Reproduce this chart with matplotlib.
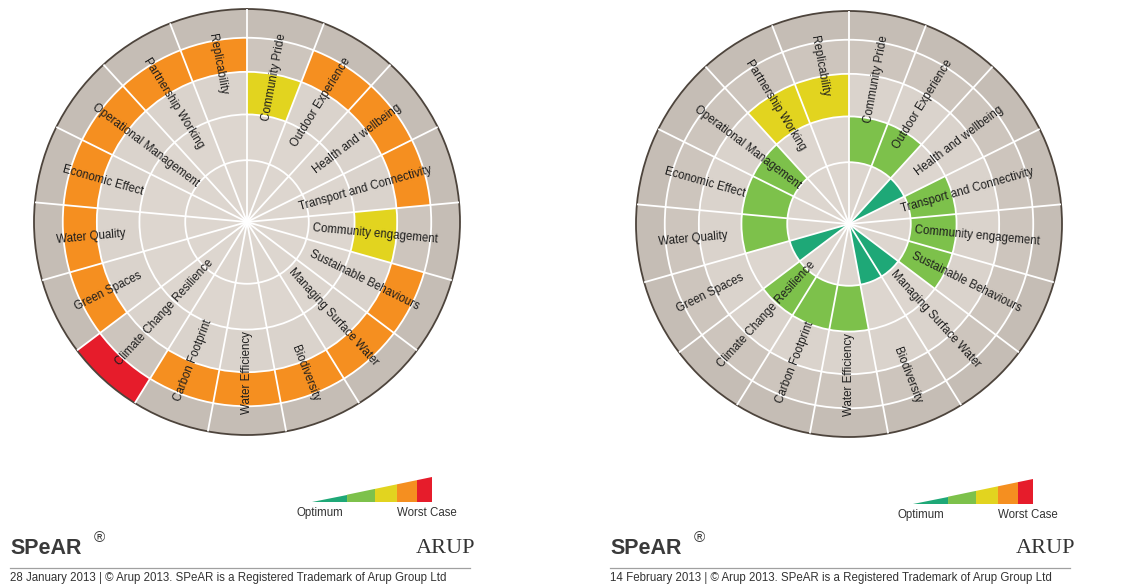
import numpy as np
import matplotlib
matplotlib.use("Agg")
import matplotlib.pyplot as plt

plt.rcParams['font.family'] = ['Liberation Sans', 'DejaVu Sans']

# -----------------------------
# Data
# -----------------------------
indicators = [
    "Community Pride", "Outdoor Experience", "Health and wellbeing",
    "Transport and Connectivity", "Community engagement", "Sustainable Behaviours",
    "Managing Surface Water", "Biodiversity", "Water Efficiency", "Carbon Footprint",
    "Climate Change Resilience", "Green Spaces", "Water Quality", "Economic Effect",
    "Operational Management", "Partnership Working", "Replicability",
]
# 1 = optimum ... 5 = worst case
scores_jan = [3, 4, 4, 4, 3, 4, 4, 4, 4, 4, 5, 4, 4, 4, 4, 4, 4]
scores_feb = [2, 2, 1, 2, 2, 2, 1, 1, 2, 2, 2, 1, 2, 2, 2, 3, 3]
dates = ["28 January 2013", "14 February 2013"]

level_colors = ["#1ea877", "#7dc14b", "#e2d41f", "#f58f20", "#e61c2b"]
ring_edges = [0, 0.29, 0.505, 0.705, 0.865, 1.0]
ring_fill = ["#ddd6cf", "#ddd6cf", "#dad3cc", "#cdc5bd", "#c5bdb5"]
legend_steps = [0, 0.292, 0.525, 0.708, 0.875, 1.0]

W, H = 1141, 587
fig = plt.figure(figsize=(W / 100, H / 100), dpi=100)

# overlay axes in pixel coordinates for the footer parts
bg = fig.add_axes([0, 0, 1, 1])
bg.set_xlim(0, W)
bg.set_ylim(H, 0)
bg.axis("off")

n = len(indicators)
step = 2 * np.pi / n


def spear(cx, cy, R, scores):
    ax = fig.add_axes([(cx - R) / W, (H - cy - R) / H, 2 * R / W, 2 * R / H],
                      projection="polar")
    ax.set_theta_zero_location("N")
    ax.set_theta_direction(-1)
    ax.set_ylim(0, 1)
    ax.patch.set_alpha(0)

    # background rings
    for i in range(5):
        ax.bar(0, ring_edges[i + 1] - ring_edges[i], width=2 * np.pi,
               bottom=ring_edges[i], color=ring_fill[i], linewidth=0, zorder=1)

    # scored cells
    theta = np.arange(n) * step + step / 2
    for t, s in zip(theta, scores):
        ax.bar(t, ring_edges[s] - ring_edges[s - 1], width=step,
               bottom=ring_edges[s - 1], color=level_colors[s - 1],
               linewidth=0, zorder=2)

    # white grid
    ax.set_xticks(np.arange(n) * step)
    ax.set_xticklabels([])
    ax.set_yticks(ring_edges[1:-1])
    ax.set_yticklabels([])
    ax.set_axisbelow(False)
    ax.grid(True, color="white", linewidth=1.3)
    ax.tick_params(length=0)
    ax.spines["polar"].set_color("#4d443c")
    ax.spines["polar"].set_linewidth(1.3)

    # radial labels
    for t, name in zip(theta, indicators):
        a = 90 - np.degrees(t)
        if np.cos(np.radians(a)) > 1e-9:
            rot, ha = a, "right"
        else:
            rot, ha = a + 180, "left"
        ax.text(t, 0.90, name, rotation=rot, rotation_mode="anchor",
                ha=ha, va="center", fontsize=8.3, color="#1e1e1e", zorder=5)
    return ax


def footer(x0, x1, date, lx, ly):
    # legend ramp
    lw_ = 120
    hgt = 25
    for i in range(5):
        f0, f1 = legend_steps[i], legend_steps[i + 1]
        xs = [lx + f0 * lw_, lx + f1 * lw_, lx + f1 * lw_, lx + f0 * lw_]
        ys = [ly, ly, ly - f1 * hgt, ly - f0 * hgt]
        bg.fill(xs, ys, color=level_colors[i], linewidth=0)
    bg.text(lx + 8, ly + 11, "Optimum", ha="center", va="center",
            fontsize=8.3, color="#333333")
    bg.text(lx + 115, ly + 11, "Worst Case", ha="center", va="center",
            fontsize=8.3, color="#333333")

    bg.text(x0, 554, "SPeAR", fontsize=15.5, fontweight="bold",
            color="#3a3a3a", va="baseline")
    bg.text(x0 + 84, 542, "®", fontsize=11, color="#3a3a3a", va="baseline")
    bg.text(x1 + 5, 553, "ARUP", fontsize=16, family="Liberation Serif",
            color="#333333", ha="right", va="baseline")
    bg.plot([x0, x1], [568, 568], color="#a0a0a0", linewidth=0.9)
    bg.text(x0, 578, date + " | © Arup 2013. SPeAR is a Registered Trademark of Arup Group Ltd",
            fontsize=8.3, color="#333333", va="center")


spear(247, 222, 213, scores_jan)
spear(849, 224, 213, scores_feb)
footer(10, 470, dates[0], 312, 502)
footer(610, 1070, dates[1], 913, 504)

fig.savefig("out.png", dpi=100)
